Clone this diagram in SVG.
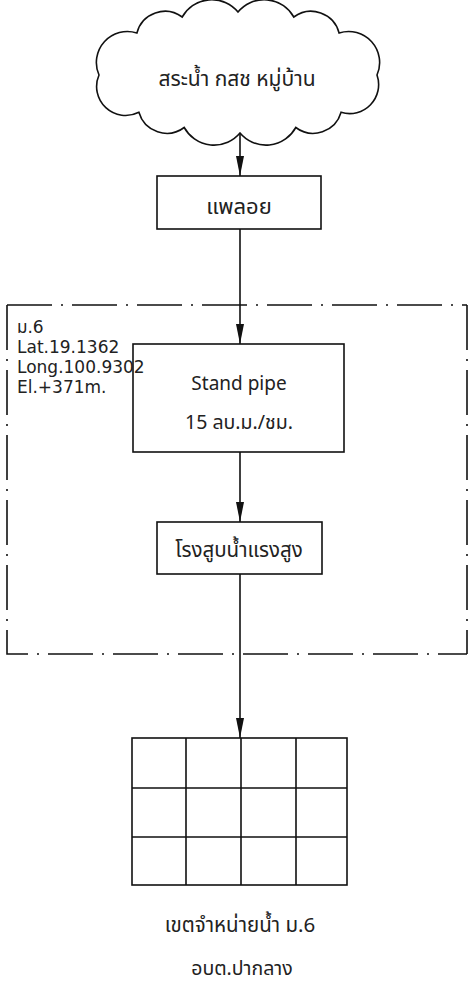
<svg xmlns="http://www.w3.org/2000/svg" width="468" height="984" viewBox="0 0 468 984">
<style>
.s{fill:none;stroke:#111;stroke-width:1.6}
.b{fill:#fff;stroke:#111;stroke-width:1.6}
.t{font-family:"Noto Sans","Noto Sans Thai","DejaVu Sans",sans-serif;font-size:18px;fill:#222}
.th{font-size:20.5px}
.l{font-family:"DejaVu Sans","Noto Sans Thai",sans-serif;font-size:17px;fill:#222}
.c{text-anchor:middle}
.dd{fill:none;stroke:#111;stroke-width:1.6;stroke-dasharray:45 9 2 9}
</style>
<defs>
<marker id="ah" viewBox="0 0 20 8" refX="20" refY="4" markerWidth="20" markerHeight="8" markerUnits="userSpaceOnUse" orient="auto">
<path d="M0 0 L20 4 L0 8 Z" fill="#111"/>
</marker>
</defs>
<rect width="468" height="984" fill="#fff"/>
<g id="zone-frame">
<path class="dd" d="M7 305 H467 M7 305 V654 H467 M467 305 V654"/>
</g>
<g id="connectors">
<line class="s" x1="240" y1="133" x2="240" y2="176" marker-end="url(#ah)"/>
<line class="s" x1="240" y1="229" x2="240" y2="344" marker-end="url(#ah)"/>
<line class="s" x1="240" y1="452" x2="240" y2="522" marker-end="url(#ah)"/>
<line class="s" x1="240" y1="574" x2="240" y2="738" marker-end="url(#ah)"/>
</g>
<g id="source">
<path class="b" d="M377 75 A29 29 0 0 1 341.1 112.3 A29 29 0 0 1 295.8 127.5 A34 34 0 0 1 240 133 A34 34 0 0 1 184.2 127.5 A29 29 0 0 1 138.9 112.3 A29 29 0 0 1 99 75 A31 31 0 0 1 136.9 33 A29 29 0 0 1 182.2 17 A34 34 0 0 1 238 12 A34 34 0 0 1 293.8 17 A29 29 0 0 1 339.1 33 A31 31 0 0 1 377 75 Z"/>
<text class="t th c" x="237" y="86" style="font-size:21px">สระน้ำ กสช หมู่บ้าน</text>
</g>
<g id="plloy">
<rect class="b" x="157" y="176" width="164" height="53"/>
<text class="t th c" x="239" y="214" style="font-size:22px">แพลอย</text>
</g>
<g id="standpipe">
<rect class="b" x="133" y="344" width="211" height="108"/>
<text class="t c" x="239" y="390" style="font-size:19px">Stand pipe</text>
<text class="t c" x="239" y="429" style="font-size:19.5px">15 ลบ.ม./ชม.</text>
</g>
<g id="zone-label">
<text class="l" x="17" y="333">ม.6</text>
<text class="l" x="17" y="353">Lat.19.1362</text>
<text class="l" x="17" y="373">Long.100.9302</text>
<text class="l" x="17" y="393">El.+371m.</text>
</g>
<g id="pump">
<rect class="b" x="157" y="522" width="165" height="52"/>
<text class="t th c" x="239" y="557">โรงสูบน้ำแรงสูง</text>
</g>
<g id="area">
<rect class="b" x="132" y="738" width="215" height="147"/>
<path class="s" d="M186 738 V885 M241 738 V885 M296 738 V885 M132 788 H347 M132 837 H347"/>
<text class="t th c" x="240" y="932">เขตจำหน่ายน้ำ ม.6</text>
<text class="t th c" x="242" y="975" style="font-size:19.5px">อบต.ปากลาง</text>
</g>
</svg>
